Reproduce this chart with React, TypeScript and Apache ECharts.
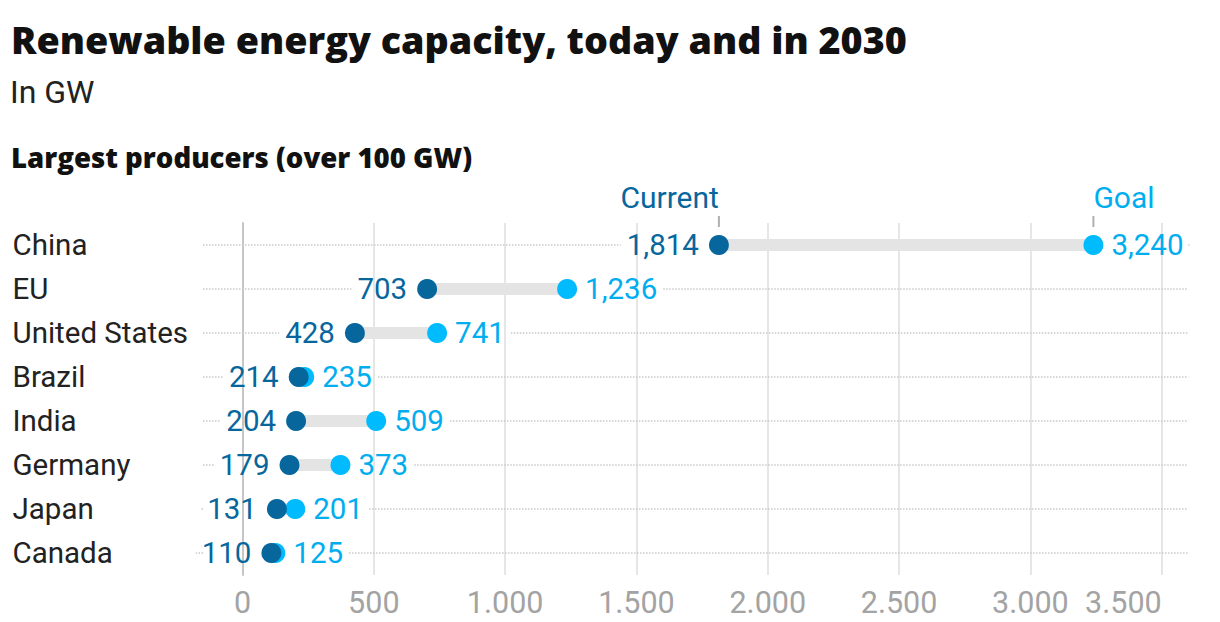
import React, { useEffect, useRef } from "react";
import * as echarts from "echarts";

const categories = ["China", "EU", "United States", "Brazil", "India", "Germany", "Japan", "Canada"];
const currentValues = [1814, 703, 428, 214, 204, 179, 131, 110];
const goalValues = [3240, 1236, 741, 235, 509, 373, 201, 125];
const xTickValues = [0, 500, 1000, 1500, 2000, 2500, 3000, 3500];

const DARK = "#07679d";
const LIGHT = "#00bcff";
const LIGHT_TEXT = "#00aeef";
const FONT = "Roboto";
const HEAVY = "'Open Sans'";
const VAL_SIZE = 29.5;

const fmtComma = (v: number) => String(Math.round(v)).replace(/\B(?=(\d{3})+(?!\d))/g, ",");
const fmtDot = (v: number) => String(Math.round(v)).replace(/\B(?=(\d{3})+(?!\d))/g, ".");

let measureCtx: CanvasRenderingContext2D | null = null;
function textWidth(t: string, size: number) {
  if (!measureCtx) measureCtx = document.createElement("canvas").getContext("2d");
  if (!measureCtx) return t.length * size * 0.55;
  measureCtx.font = `${size}px ${FONT}`;
  return measureCtx.measureText(t).width;
}

export default function App() {
  const ref = useRef<HTMLDivElement>(null);
  useEffect(() => {
    document.body.style.margin = "0";
    if (!ref.current) return;
    const chart = echarts.init(ref.current, undefined, { renderer: "svg" });
    const data = categories.map((c, i) => [currentValues[i], goalValues[i], i]);
    const option: any = {
      animation: false,
      backgroundColor: "#ffffff",
      grid: { left: 242.5, right: 58.3, top: 223, bottom: 47, containLabel: false },
      graphic: [
        {
          type: "text",
          x: 11,
          y: 39.5,
          style: {
            text: "Renewable energy capacity, today and in 2030",
            fill: "#111111",
            fontSize: 37.7,
            fontWeight: 800,
            fontFamily: HEAVY,
            verticalAlign: "middle",
          },
        },
        {
          type: "text",
          x: 10,
          y: 92,
          style: {
            text: "In GW",
            fill: "#222222",
            fontSize: 32,
            fontFamily: FONT,
            verticalAlign: "middle",
          },
        },
        {
          type: "text",
          x: 11,
          y: 157,
          style: {
            text: "Largest producers (over 100 GW)",
            fill: "#111111",
            fontSize: 27.6,
            fontWeight: 800,
            fontFamily: HEAVY,
            verticalAlign: "middle",
          },
        },
      ],
      xAxis: {
        type: "value",
        min: 0,
        max: 3500,
        interval: 500,
        axisLine: { show: false },
        axisTick: { show: false },
        splitLine: { show: true, lineStyle: { color: "#e6e6e6", width: 2 } },
        axisLabel: {
          color: "#a3a3a3",
          fontSize: 30.5,
          fontFamily: FONT,
          margin: 12,
          alignMaxLabel: "right",
          formatter: (v: number) => (xTickValues.includes(v) ? fmtDot(v) : ""),
        },
      },
      yAxis: {
        type: "category",
        inverse: true,
        data: categories,
        axisTick: { show: false },
        splitLine: { show: false },
        axisLine: { show: true, lineStyle: { color: "#c6c6c6", width: 2 } },
        axisLabel: {
          align: "left",
          margin: 230,
          color: "#222222",
          fontSize: 29.5,
          fontFamily: FONT,
        },
      },
      series: [
        {
          type: "custom",
          clip: false,
          encode: { x: [0, 1], y: 2 },
          data,
          renderItem: (params: any, api: any) => {
            const c = api.value(0);
            const g = api.value(1);
            const yi = api.value(2);
            const pc = api.coord([c, yi]);
            const pg = api.coord([g, yi]);
            const cs = params.coordSys;
            const y = pc[1];
            const cText = fmtComma(c);
            const gText = fmtComma(g);
            const cLabelRight = pc[0] - 20;
            const gLabelLeft = pg[0] + 18;
            const cLabelLeft = cLabelRight - textWidth(cText, VAL_SIZE);
            const gLabelRight = gLabelLeft + textWidth(gText, VAL_SIZE);
            const leftEnd = cs.x - 39.5;
            const rightEnd = cs.x + cs.width + 26.5;
            const dot = { stroke: "#c9c9c9", lineWidth: 1.5, lineDash: [1.5, 1.5] };
            const children: any[] = [
              {
                type: "line",
                shape: { x1: leftEnd, y1: y, x2: cLabelLeft - 6, y2: y },
                style: dot,
              },
              {
                type: "line",
                shape: { x1: gLabelRight + 6, y1: y, x2: rightEnd, y2: y },
                style: dot,
              },
              {
                type: "rect",
                shape: { x: Math.min(pc[0], pg[0]), y: y - 6, width: Math.abs(pg[0] - pc[0]), height: 12 },
                style: { fill: "#e4e4e4" },
              },
              { type: "circle", shape: { cx: pg[0], cy: y, r: 10 }, style: { fill: LIGHT } },
              { type: "circle", shape: { cx: pc[0], cy: y, r: 10 }, style: { fill: DARK } },
              {
                type: "text",
                style: {
                  text: cText,
                  x: cLabelRight,
                  y,
                  align: "right",
                  verticalAlign: "middle",
                  fill: DARK,
                  fontSize: VAL_SIZE,
                  fontFamily: FONT,
                },
              },
              {
                type: "text",
                style: {
                  text: gText,
                  x: gLabelLeft,
                  y,
                  align: "left",
                  verticalAlign: "middle",
                  fill: LIGHT_TEXT,
                  fontSize: VAL_SIZE,
                  fontFamily: FONT,
                },
              },
            ];
            if (params.dataIndex === 0) {
              children.push(
                {
                  type: "line",
                  shape: { x1: pc[0], y1: y - 29, x2: pc[0], y2: y - 18 },
                  style: { stroke: "#b0b0b0", lineWidth: 2 },
                },
                {
                  type: "line",
                  shape: { x1: pg[0], y1: y - 29, x2: pg[0], y2: y - 18 },
                  style: { stroke: "#b0b0b0", lineWidth: 2 },
                },
                {
                  type: "text",
                  style: {
                    text: "Current",
                    x: pc[0],
                    y: y - 48,
                    align: "right",
                    verticalAlign: "middle",
                    fill: DARK,
                    fontSize: 30,
                    fontFamily: FONT,
                  },
                },
                {
                  type: "text",
                  style: {
                    text: "Goal",
                    x: pg[0],
                    y: y - 48,
                    align: "left",
                    verticalAlign: "middle",
                    fill: LIGHT_TEXT,
                    fontSize: 30,
                    fontFamily: FONT,
                  },
                }
              );
            }
            return { type: "group", children };
          },
        },
      ],
    };
    chart.setOption(option);
    return () => chart.dispose();
  }, []);
  return <div ref={ref} style={{ width: 1220, height: 622 }} />;
}
